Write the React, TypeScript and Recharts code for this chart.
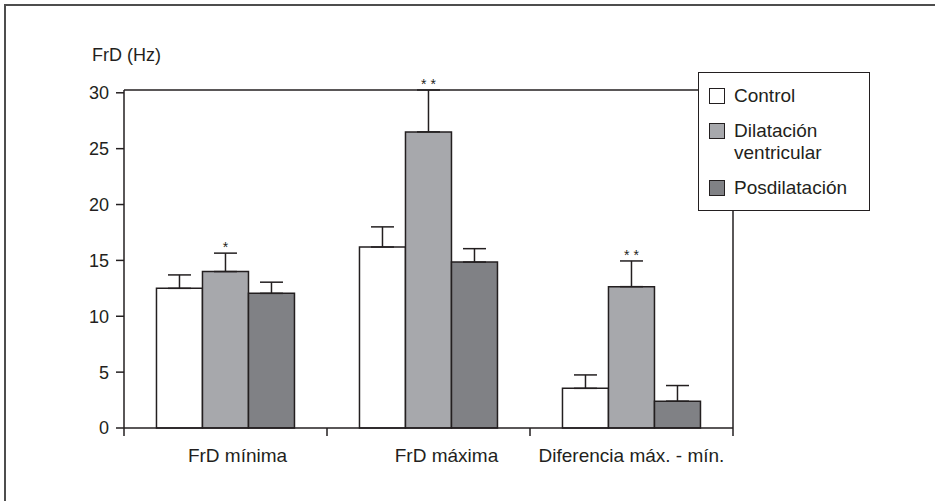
import { Bar, BarChart, CartesianGrid, ErrorBar, LabelList, XAxis, YAxis } from 'recharts'

const categories = ['FrD mínima', 'FrD máxima', 'Diferencia máx. - mín.']
const control = [12.5, 16.2, 3.55]
const controlErr = [1.2, 1.8, 1.2]
const dilatacion = [14.0, 26.5, 12.65]
const dilatacionErr = [1.65, 3.75, 2.3]
const posdilatacion = [12.05, 14.85, 2.4]
const posdilatacionErr = [1.0, 1.2, 1.4]
const significance = ['*', '* *', '* *']
const yTicks = [0, 5, 10, 15, 20, 25, 30]

const INK = '#231f20'
const FONT = "'Liberation Sans', Arial, Helvetica, sans-serif"
// the original labels are not quite centred under their groups
const labelShift = [12, 18, 0]

const series = [
  { key: 'control', name: 'Control', fill: '#ffffff' },
  { key: 'dilatacion', name: 'Dilatación ventricular', fill: '#a7a8ac' },
  { key: 'posdilatacion', name: 'Posdilatación', fill: '#808185' },
]

const data = categories.map((name, i) => ({
  name,
  control: control[i],
  controlErr: [0, controlErr[i]],
  dilatacion: dilatacion[i],
  dilatacionErr: [0, dilatacionErr[i]],
  posdilatacion: posdilatacion[i],
  posdilatacionErr: [0, posdilatacionErr[i]],
}))

// category label + boundary tick marks (ticks sit between groups, not at centers)
function CategoryTick(props: any) {
  const { x, y, payload, index, width } = props
  const half = payload?.offset || (width ? width / categories.length / 2 : 0)
  return (
    <g>
      {index === 0 && <line x1={x - half} x2={x - half} y1={y} y2={y + 8} stroke={INK} strokeWidth={1.5} />}
      <line x1={x + half} x2={x + half} y1={y} y2={y + 8} stroke={INK} strokeWidth={1.5} />
      <text x={x + (labelShift[index] || 0)} y={y + 34} textAnchor="middle" fontSize={19} fill={INK} fontFamily={FONT}>
        {payload.value}
      </text>
    </g>
  )
}

function StarLabel(props: any) {
  const vb = props.viewBox || {}
  const x = props.x ?? vb.x
  const y = props.y ?? vb.y
  const w = props.width ?? vb.width
  const h = props.height ?? vb.height
  const i = props.index
  const v = dilatacion[i]
  const capY = y - (dilatacionErr[i] * h) / v
  return (
    <text x={x + w / 2} y={capY - 1} textAnchor="middle" fontSize={14} fill={INK} fontFamily={FONT}>
      {significance[i]}
    </text>
  )
}

// frame: top line at plot top, right line at plot right edge
const topLine = (p: any) => (p.offset ? [p.offset.top] : [p.yAxis.scale(30)])
const rightLine = (p: any) => (p.offset ? [p.offset.left + p.offset.width] : [p.xAxis.scale.range()[1]])

export default function App() {
  return (
    <div style={{ position: 'absolute', left: 0, top: 0, width: 935, height: 501, background: '#fff', fontFamily: FONT }}>
      <div style={{ position: 'absolute', left: 4, top: 4, right: -10, bottom: -10, borderTop: '2px solid #4d4d4d', borderLeft: '2px solid #4d4d4d' }} />
      <div style={{ position: 'absolute', left: 92, top: 44, fontSize: 18, color: INK, lineHeight: '22px' }}>FrD (Hz)</div>
      <div style={{ position: 'absolute', left: 0, top: 0 }}>
        <BarChart
          width={935}
          height={501}
          data={data}
          margin={{ top: 90, right: 202, bottom: 33, left: 0 }}
          barCategoryGap="16%"
          barGap={0}
        >
          <CartesianGrid
            stroke={INK}
            strokeWidth={1.5}
            horizontalCoordinatesGenerator={topLine}
            verticalCoordinatesGenerator={rightLine}
          />
          <XAxis
            dataKey="name"
            height={40}
            tickSize={0}
            tickMargin={0}
            tickLine={false}
            stroke={INK}
            strokeWidth={1.5}
            tick={<CategoryTick />}
            interval={0}
          />
          <YAxis
            width={124}
            domain={[0, 30]}
            ticks={yTicks}
            tickSize={8}
            tickMargin={7}
            stroke={INK}
            strokeWidth={1.5}
            tick={{ fontSize: 18, fill: INK, fontFamily: FONT }}
          />
          {series.map((s) => (
            <Bar key={s.key} dataKey={s.key} name={s.name} fill={s.fill} stroke={INK} strokeWidth={1.5} isAnimationActive={false}>
              <ErrorBar dataKey={`${s.key}Err`} width={11.5} stroke={INK} strokeWidth={1.5} direction="y" />
              {s.key === 'dilatacion' && <LabelList dataKey="dilatacion" content={<StarLabel />} />}
            </Bar>
          ))}
        </BarChart>
      </div>
      <div
        style={{
          position: 'absolute',
          left: 698,
          top: 72,
          width: 172,
          height: 139,
          boxSizing: 'border-box',
          border: `1.5px solid ${INK}`,
          background: '#fff',
          paddingTop: 12,
          display: 'flex',
          flexDirection: 'column',
          gap: 13,
        }}
      >
        {series.map((s) => (
          <div key={s.key} style={{ display: 'flex', alignItems: 'flex-start', fontSize: 19, lineHeight: '22px', color: INK }}>
            <span
              style={{
                width: 16,
                height: 16,
                boxSizing: 'border-box',
                border: `1.5px solid ${INK}`,
                background: s.fill,
                marginLeft: 10,
                marginRight: 9,
                marginTop: 3,
                flex: 'none',
              }}
            />
            <span style={{ width: 132 }}>{s.name}</span>
          </div>
        ))}
      </div>
    </div>
  )
}
